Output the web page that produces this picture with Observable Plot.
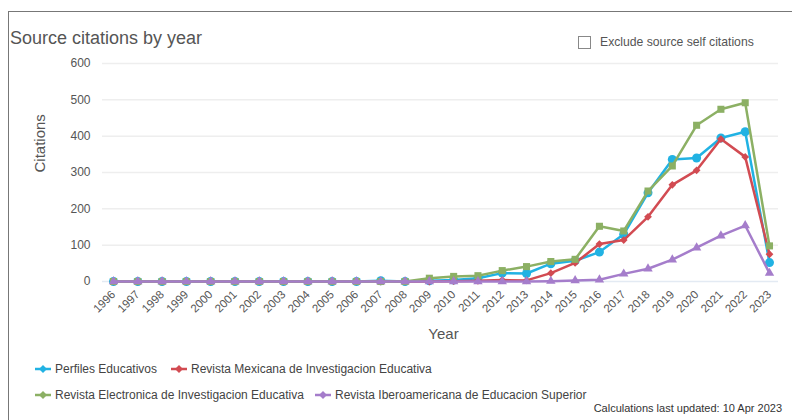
<!DOCTYPE html>
<html><head><meta charset="utf-8">
<script src="https://cdn.jsdelivr.net/npm/d3@7"></script>
<script src="https://cdn.jsdelivr.net/npm/@observablehq/plot@0.6"></script>
<style>
html,body{margin:0;padding:0;background:#fff;}
#wrap{position:relative;width:792px;height:420px;overflow:hidden;font-family:"Liberation Sans",sans-serif;color:#555;}
#frame{position:absolute;left:8px;top:11px;width:800px;height:420px;border-left:1px solid #777;border-top:1px solid #777;}
#title{position:absolute;left:10px;top:28px;font-size:18px;color:#555;}
#chk{position:absolute;left:578px;top:36px;width:11px;height:11px;border:1px solid #888;}
#chktxt{position:absolute;left:600px;top:35px;font-size:12.2px;color:#555;}
#plot{position:absolute;left:0;top:0;}
.leg{position:absolute;font-size:12px;color:#444;white-space:nowrap;display:flex;align-items:center;}
.leg svg{margin-right:4px;}
#cap{position:absolute;right:10px;top:402px;font-size:11px;color:#333;}
</style></head>
<body><div id="wrap"><div id="frame"></div><div id="title">Source citations by year</div><div id="chk"></div><div id="chktxt">Exclude source self citations</div><div id="plot"></div><div id="legend"></div><div id="cap">Calculations last updated: 10 Apr 2023</div></div>
<script>
const years = d3.range(1996, 2024);
const perfiles = [0,0,0,0,0,0,0,0,0,0,0,2,0,2,4,9,23,22,49,57,81,130,244,336,340,395,412,52];
const mexicana = [0,0,0,0,0,0,0,0,0,0,0,0,0,0,1,2,4,3,23,51,103,114,178,266,306,392,343,75];
const electronica = [0,0,0,0,0,0,0,0,0,0,0,0,0,9,14,16,30,41,55,61,152,139,249,318,430,474,492,98];
const iberoamericana = [0,0,0,0,0,0,0,0,0,0,0,0,0,0,0,0,0,0,1,3,5,21,35,60,93,126,154,23];
const seriesNames = ["Perfiles Educativos","Revista Mexicana de Investigacion Educativa","Revista Electronica de Investigacion Educativa","Revista Iberoamericana de Educacion Superior"];
const seriesColors = ["#21b2e3","#d24b52","#8cb064","#a57dcb"];
const seriesSymbols = ["circle","diamond2","square2","triangle2"];
const seriesValues = [perfiles, mexicana, electronica, iberoamericana];
const yTicks = [0,100,200,300,400,500,600];

const marks = [
  Plot.ruleY(yTicks, {stroke: d => d === 0 ? "#e3eaf3" : "#eeeeee", strokeWidth: 1.5}),
  Plot.axisY({ticks: yTicks, tickSize: 0, tickPadding: 12, fontSize: 12, color: "#555", label: null}),
  Plot.axisX({ticks: years, tickFormat: d => String(d), tickSize: 0, tickRotate: -45, tickPadding: 11, fontSize: 11.5, color:"#555", label: null})
];
seriesValues.forEach((vals, i) => {
  const data = years.map((y, j) => ({year: y, value: vals[j]}));
  marks.push(Plot.line(data, {x: "year", y: "value", stroke: seriesColors[i], strokeWidth: 2.5}));
  marks.push(Plot.dot(data, {x: "year", y: "value", fill: seriesColors[i], stroke: "none", symbol: () => seriesSymbols[i], r: i === 1 ? 3.5 : 4.5}));
});
const chart = Plot.plot({
  width: 792, height: 345,
  marginLeft: 102, marginRight: 14, marginTop: 63, marginBottom: 64,
  insetLeft: 11, insetRight: 9,
  x: {type: "linear", domain: [1996, 2023]},
  y: {domain: [0, 600]},
  style: {fontFamily: "Liberation Sans, sans-serif", background: "transparent", overflow: "visible"},
  marks: [
    ...marks,
    Plot.text(["Year"], {frameAnchor: "bottom", dy: 57, dx: 3, fontSize: 15, fill: "#555"}),
    Plot.text(["Citations"], {frameAnchor: "left", dx: -62, rotate: -90, fontSize: 15, fill: "#555"})
  ]
});
document.getElementById("plot").appendChild(chart);

const legPos = [[35,362],[171,362],[35,388],[315,388]];
const legend = document.getElementById("legend");
seriesNames.forEach((n, i) => {
  const div = document.createElement("div");
  div.className = "leg";
  div.style.left = legPos[i][0] + "px";
  div.style.top = legPos[i][1] + "px";
  const sym = d3.symbol(d3.symbolDiamond2, 40)();
  div.innerHTML = `<svg width="16" height="12"><line x1="0" x2="16" y1="6" y2="6" stroke="${seriesColors[i]}" stroke-width="2.5"/><path d="${sym}" transform="translate(8,6)" fill="${seriesColors[i]}"/></svg><span>${n}</span>`;
  legend.appendChild(div);
});
</script></body></html>
